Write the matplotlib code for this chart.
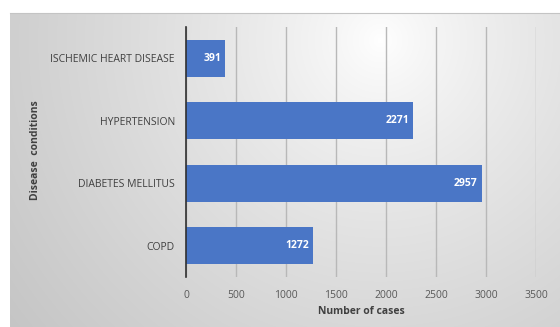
import numpy as np
import matplotlib
matplotlib.use('Agg')
import matplotlib.pyplot as plt

conditions = ["COPD", "DIABETES MELLITUS", "HYPERTENSION", "ISCHEMIC HEART DISEASE"]
cases = [1272, 2957, 2271, 391]
x_ticks = [0, 500, 1000, 1500, 2000, 2500, 3000, 3500]

plt.rcParams['font.family'] = ['Open Sans', 'DejaVu Sans']

W, H = 560, 327
fig = plt.figure(figsize=(W / 100, H / 100), dpi=100)

# shaded backdrop: bright spot upper right of centre, greyer towards the edges
bg = fig.add_axes([10 / W, 0, 550 / W, 1 - 13 / H], zorder=0)
yy, xx = np.mgrid[0:314, 0:550]
d = np.hypot(xx + 10 - 380, yy + 13 - 40) / 470.0
shade = np.clip(255 - 58 * d ** 0.8, 190, 255) / 255.0
img = np.dstack([shade, shade, shade])
bg.imshow(img, aspect='auto', extent=[0, 1, 0, 1], origin='upper')
bg.set_xticks([])
bg.set_yticks([])
for s in bg.spines.values():
    s.set_visible(False)
bg.spines['top'].set_visible(True)
bg.spines['top'].set_color('#c4c4c4')

ax = fig.add_axes([186 / W, 1 - 277 / H, 350 / W, 250 / H], zorder=1)
ax.patch.set_alpha(0)

ypos = np.arange(len(conditions))
bars = ax.barh(ypos, cases, height=0.59, color='#4a76c6', zorder=2)
for b, v in zip(bars, cases):
    ax.text(v - 40, b.get_y() + b.get_height() / 2, str(v), ha='right', va='center',
            color='white', fontsize=7.5, fontweight='bold', zorder=3)

ax.set_xlim(0, 3500)
ax.set_ylim(-0.5, len(conditions) - 0.5)
ax.set_xticks(x_ticks)
ax.set_xticklabels([str(t) for t in x_ticks], fontsize=7.5, color='#595959')
ax.set_yticks(ypos)
ax.set_yticklabels(conditions, fontsize=7.5, color='#404040')
ax.tick_params(length=0, pad=9)
ax.tick_params(axis='y', pad=8)
ax.grid(axis='x', color='#b8b8b8', linewidth=1)
ax.set_axisbelow(True)
for s in ['top', 'right', 'bottom']:
    ax.spines[s].set_visible(False)
ax.spines['left'].set_color('#303030')
ax.spines['left'].set_linewidth(1.2)
ax.spines['left'].set_zorder(4)

ax.set_xlabel("Number of cases", fontsize=7.5, fontweight='bold', color='#404040', labelpad=4)
fig.text(35 / W, 1 - 150 / H, "Disease  conditions", rotation=90, ha='center', va='center',
         fontsize=7.5, fontweight='bold', color='#404040')

fig.savefig('out.png', dpi=100)
